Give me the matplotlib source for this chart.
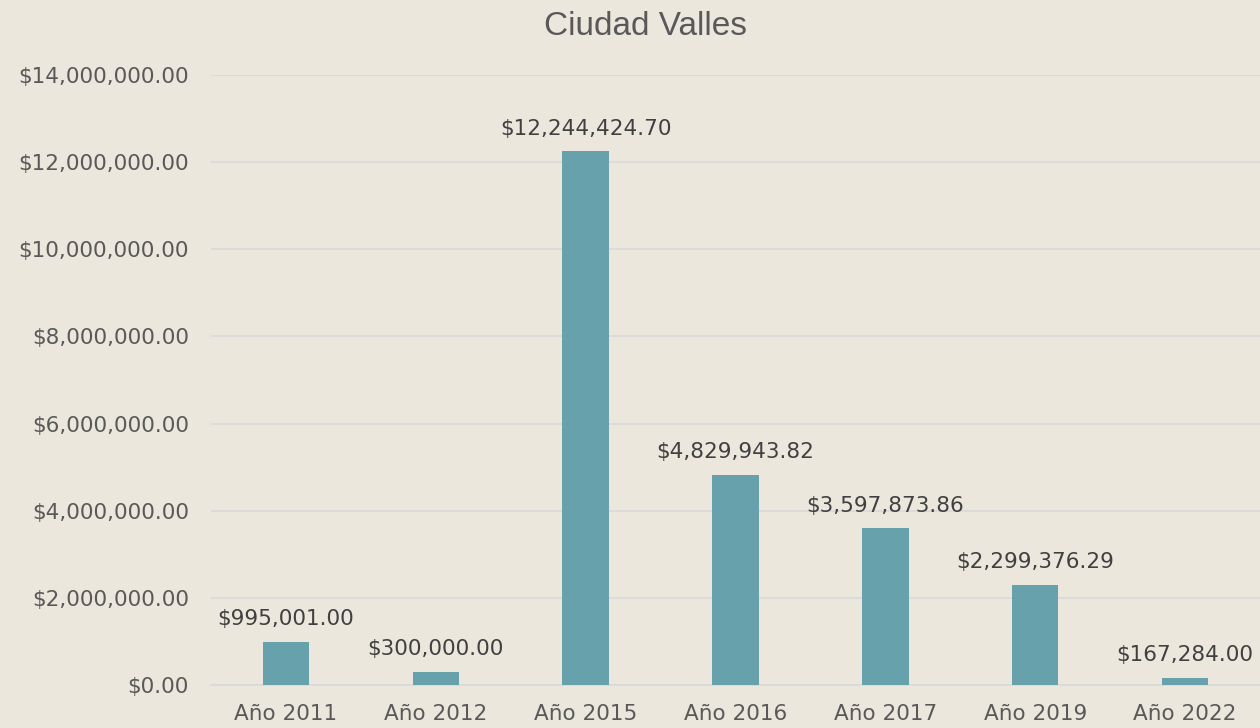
import matplotlib
matplotlib.use("Agg")
import matplotlib.pyplot as plt
from matplotlib.ticker import FuncFormatter

categories = ["Año 2011", "Año 2012", "Año 2015", "Año 2016", "Año 2017", "Año 2019", "Año 2022"]
values = [995001.00, 300000.00, 12244424.70, 4829943.82, 3597873.86, 2299376.29, 167284.00]
yticks = [0, 2e6, 4e6, 6e6, 8e6, 10e6, 12e6, 14e6]

bg = "#EBE7DD"
bar_color = "#67A1AB"
grid_color = "#D9D9D9"
tick_color = "#595959"
label_color = "#404040"

plt.rcParams["font.family"] = ["DejaVu Sans"]

fig = plt.figure(figsize=(12.6, 7.28), dpi=100, facecolor=bg)
ax = fig.add_axes([0.1675, 0.0591, 0.8325, 0.8380])
ax.set_facecolor(bg)

x = list(range(len(categories)))
bars = ax.bar(x, values, width=0.31, color=bar_color, zorder=3)

ax.set_xlim(-0.5, len(categories) - 0.5)
ax.set_ylim(0, 14e6)
ax.set_yticks(yticks)
ax.yaxis.set_major_formatter(FuncFormatter(lambda v, p: f"${v:,.2f}"))
ax.set_xticks(x)
ax.set_xticklabels(categories)
ax.grid(axis="y", color=grid_color, linewidth=1.2, zorder=0)
for s in ["top", "right", "left"]:
    ax.spines[s].set_visible(False)
ax.spines["bottom"].set_color(grid_color)
ax.spines["bottom"].set_linewidth(1.2)
ax.tick_params(axis="both", length=0, labelsize=15.5, colors=tick_color)
ax.tick_params(axis="y", pad=16)
ax.tick_params(axis="x", pad=14)

for xi, v in zip(x, values):
    ax.annotate(f"${v:,.2f}", (xi, v), xytext=(0, 9), textcoords="offset points",
                ha="center", va="bottom", fontsize=15.5, color=label_color)

fig.text(0.5123, 1 - 35 / 728, "Ciudad Valles", ha="center", va="baseline",
         fontsize=24, color=tick_color, family=["Liberation Sans", "DejaVu Sans"])

fig.savefig("out.png", dpi=100, facecolor=bg)
